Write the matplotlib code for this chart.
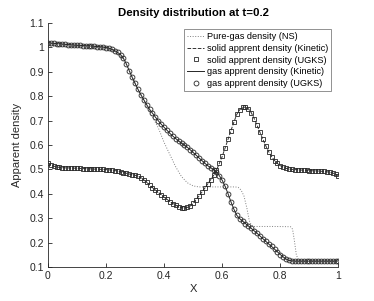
import numpy as np
import matplotlib.pyplot as plt
from matplotlib.ticker import FormatStrFormatter

plt.rcParams['font.family'] = ['Liberation Sans', 'DejaVu Sans']

# sample positions (UGKS / kinetic solutions)
x = np.round(np.arange(0, 1.0001, 0.01), 2)

gas = [1.019, 1.017, 1.016, 1.015, 1.014, 1.013, 1.012, 1.011, 1.010, 1.009,
       1.008, 1.008, 1.007, 1.006, 1.006, 1.005, 1.004, 1.003, 1.002, 1.001,
       0.999, 0.996, 0.992, 0.986, 0.979, 0.970, 0.955, 0.932, 0.904, 0.877,
       0.852, 0.828, 0.806, 0.785, 0.765, 0.746, 0.730, 0.714, 0.699, 0.685,
       0.672, 0.660, 0.647, 0.636, 0.626, 0.616, 0.607, 0.599, 0.590, 0.580,
       0.569, 0.558, 0.547, 0.536, 0.525, 0.515, 0.507, 0.499, 0.490, 0.474,
       0.455, 0.430, 0.400, 0.367, 0.337, 0.312, 0.298, 0.288, 0.278, 0.268,
       0.258, 0.248, 0.238, 0.227, 0.216, 0.205, 0.194, 0.184, 0.173, 0.162,
       0.151, 0.141, 0.132, 0.127, 0.125, 0.124, 0.124, 0.124, 0.124, 0.124,
       0.124, 0.124, 0.124, 0.124, 0.124, 0.124, 0.124, 0.124, 0.124, 0.124,
       0.125]

solid = [0.526, 0.518, 0.513, 0.510, 0.508, 0.507, 0.506, 0.506, 0.505, 0.505,
         0.504, 0.504, 0.503, 0.503, 0.502, 0.502, 0.501, 0.501, 0.500, 0.500,
         0.499, 0.498, 0.497, 0.495, 0.493, 0.490, 0.487, 0.484, 0.481, 0.478,
         0.476, 0.472, 0.466, 0.457, 0.447, 0.436, 0.425, 0.415, 0.406, 0.396,
         0.386, 0.377, 0.368, 0.360, 0.353, 0.347, 0.343, 0.342, 0.344, 0.350,
         0.362, 0.376, 0.391, 0.407, 0.423, 0.440, 0.457, 0.475, 0.496, 0.524,
         0.553, 0.588, 0.623, 0.659, 0.693, 0.725, 0.744, 0.754, 0.755, 0.748,
         0.732, 0.708, 0.680, 0.651, 0.623, 0.596, 0.572, 0.552, 0.536, 0.524,
         0.515, 0.509, 0.504, 0.501, 0.500, 0.499, 0.498, 0.497, 0.497, 0.496,
         0.495, 0.494, 0.494, 0.493, 0.492, 0.492, 0.490, 0.488, 0.485, 0.480,
         0.474]

# Navier-Stokes pure gas solution
ns_x = [0, 0.1, 0.2, 0.22, 0.24, 0.26, 0.28, 0.30, 0.32, 0.34, 0.36, 0.38,
        0.40, 0.42, 0.44, 0.46, 0.48, 0.50, 0.52, 0.55, 0.60, 0.645, 0.655,
        0.665, 0.675, 0.685, 0.693, 0.70, 0.71, 0.78, 0.835, 0.842, 0.848,
        0.855, 0.862, 0.87, 0.9, 1.0]
ns = [1.005, 1.003, 0.998, 0.99, 0.975, 0.95, 0.905, 0.855, 0.805, 0.76,
      0.715, 0.67, 0.61, 0.56, 0.51, 0.47, 0.445, 0.432, 0.428, 0.428, 0.428,
      0.428, 0.426, 0.415, 0.39, 0.34, 0.29, 0.272, 0.266, 0.266, 0.265,
      0.255, 0.21, 0.15, 0.128, 0.124, 0.124, 0.124]

fig = plt.figure(figsize=(3.74, 3.01), dpi=100)
ax = fig.add_axes([0.128, 0.113, 0.777, 0.811])

axc = '#262626'
ax.plot(ns_x, ns, ':', color='0.5', lw=0.7, label='Pure-gas density (NS)')
ax.plot(x, solid, '--', color='0.2', lw=0.7, label='solid apprent density (Kinetic)')
ax.plot(x, solid, 's', ms=3.2, mfc='none', mec='0.15', mew=0.6,
        label='solid apprent density (UGKS)')
ax.plot(x, gas, '-', color='0.15', lw=0.7, label='gas apprent density (Kinetic)')
ax.plot(x, gas, 'o', ms=3.5, mfc='none', mec='0.15', mew=0.6,
        label='gas apprent density (UGKS)')

ax.set_xlim(0, 1)
ax.set_ylim(0.1, 1.1)
ax.set_xticks(np.arange(0, 1.01, 0.2))
ax.set_yticks(np.arange(0.1, 1.101, 0.1))
ax.xaxis.set_major_formatter(FormatStrFormatter('%g'))
ax.yaxis.set_major_formatter(FormatStrFormatter('%g'))

for s in ['top', 'right']:
    ax.spines[s].set_visible(False)
for s in ['left', 'bottom']:
    ax.spines[s].set_color(axc)
    ax.spines[s].set_linewidth(0.6)
ax.tick_params(direction='in', length=3, width=0.6, colors=axc,
               labelsize=7.5, pad=3)

ax.set_xlabel('X', fontsize=8, color=axc, labelpad=2)
ax.set_ylabel('Apparent density', fontsize=8, color=axc, labelpad=5)
ax.set_title('Density distribution at t=0.2', fontsize=8.2, fontweight='bold',
             color='black', pad=5)

leg = ax.legend(loc='upper right', bbox_to_anchor=(0.975, 0.975), fontsize=6.6,
                frameon=True, fancybox=False, framealpha=1, edgecolor='0.5',
                handlelength=1.8, handletextpad=0.3, borderpad=0.35,
                labelspacing=0.3, borderaxespad=0)
leg.get_frame().set_linewidth(0.6)

fig.savefig('out.png', dpi=100)
